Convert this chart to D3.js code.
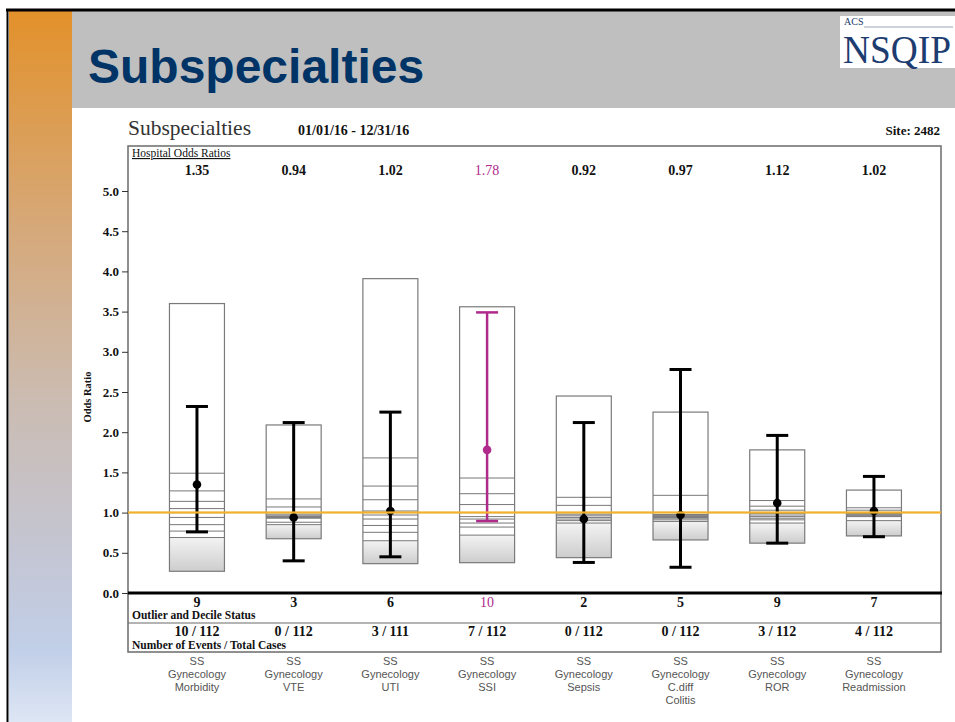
<!DOCTYPE html>
<html><head><meta charset="utf-8">
<script src="https://cdn.jsdelivr.net/npm/d3@7"></script>
<style>body{margin:0;background:#fff;overflow:hidden} svg{display:block}</style>
</head><body><svg id="c" width="955" height="722"></svg>
<script>
// ---------------- data ----------------
const categories = [
  ["SS","Gynecology","Morbidity"],
  ["SS","Gynecology","VTE"],
  ["SS","Gynecology","UTI"],
  ["SS","Gynecology","SSI"],
  ["SS","Gynecology","Sepsis"],
  ["SS","Gynecology","C.diff","Colitis"],
  ["SS","Gynecology","ROR"],
  ["SS","Gynecology","Readmission"]
];
const hospitalOR = [1.35, 0.94, 1.02, 1.78, 0.92, 0.97, 1.12, 1.02];
const ciLower   = [0.76, 0.40, 0.45, 0.895, 0.38, 0.32, 0.62, 0.70];
const ciUpper   = [2.32, 2.12, 2.25, 3.49, 2.12, 2.78, 1.96, 1.45];
const boxMin    = [0.27, 0.675, 0.365, 0.377, 0.44, 0.66, 0.62, 0.71];
const boxMax    = [3.60, 2.09, 3.91, 3.56, 2.45, 2.25, 1.78, 1.28];
const deciles = [
  [0.69, 0.77, 0.85, 0.94, 1.00, 1.05, 1.14, 1.27, 1.49],
  [0.85, 0.88, 0.93, 0.94, 0.95, 0.96, 0.98, 1.07, 1.17],
  [0.65, 0.755, 0.84, 0.92, 0.97, 1.02, 1.16, 1.33, 1.68],
  [0.72, 0.82, 0.87, 0.92, 0.95, 1.00, 1.10, 1.235, 1.43],
  [0.87, 0.90, 0.92, 0.94, 0.96, 0.98, 1.00, 1.09, 1.19],
  [0.89, 0.91, 0.93, 0.94, 0.95, 0.96, 0.97, 0.975, 1.215],
  [0.87, 0.91, 0.93, 0.95, 0.97, 0.99, 1.03, 1.08, 1.15],
  [0.90, 0.95, 0.96, 0.97, 0.98, 0.99, 1.00, 1.03, 1.06]
];
const outlierStatus = [9, 3, 6, 10, 2, 5, 9, 7];
const eventsTotal = ["10 / 112","0 / 112","3 / 111","7 / 112","0 / 112","0 / 112","3 / 112","4 / 112"];
const yTicks = [0, 0.5, 1, 1.5, 2, 2.5, 3, 3.5, 4, 4.5, 5];
const referenceOR = 1.0;

// ---------------- drawing ----------------
const svg = d3.select("#c");
const defs = svg.append("defs");
const serif = "'Liberation Serif','Times New Roman',serif";
const sans = "'Liberation Sans',Arial,sans-serif";
const magenta = "#b02a8c";
const navy = "#003366";

const strip = defs.append("linearGradient").attr("id","strip").attr("x1",0).attr("y1",0).attr("x2",0).attr("y2",1);
[[0,"#e3912a"],[0.3,"#d6a878"],[0.55,"#cbbcb2"],[0.75,"#c4c5d2"],[0.9,"#c1cfe8"],[1,"#dde6f4"]]
  .forEach(([o,c])=>strip.append("stop").attr("offset",o).attr("stop-color",c));
const boxGrad = defs.append("linearGradient").attr("id","boxg").attr("x1",0).attr("y1",0).attr("x2",0).attr("y2",1);
boxGrad.append("stop").attr("offset",0).attr("stop-color","#f3f3f3");
boxGrad.append("stop").attr("offset",1).attr("stop-color","#cdcdcd");

svg.append("rect").attr("x",0).attr("y",0).attr("width",955).attr("height",722).attr("fill","#fff");
svg.append("rect").attr("x",9).attr("y",11).attr("width",63).attr("height",711).attr("fill","url(#strip)");
svg.append("rect").attr("x",72).attr("y",11).attr("width",883).attr("height",97).attr("fill","#bfbfbf");
svg.append("line").attr("x1",6).attr("x2",955).attr("y1",10).attr("y2",10).attr("stroke","#000").attr("stroke-width",3);
svg.append("line").attr("x1",7.5).attr("x2",7.5).attr("y1",9).attr("y2",722).attr("stroke","#000").attr("stroke-width",2);

svg.append("text").attr("x",88).attr("y",83).text("Subspecialties")
  .attr("font-family",sans).attr("font-weight","bold").attr("font-size",48).attr("fill",navy);

// logo
const logo = svg.append("g");
logo.append("rect").attr("x",840).attr("y",16).attr("width",115).attr("height",52).attr("fill","#fff");
logo.append("text").attr("x",844).attr("y",25).text("ACS").attr("font-family",serif).attr("font-size",10).attr("fill","#1d3c70");
logo.append("line").attr("x1",864).attr("x2",953).attr("y1",27).attr("y2",27).attr("stroke","#9aa5b8").attr("stroke-width",1);
logo.append("text").attr("x",843).attr("y",63).text("NSQIP").attr("font-family",serif).attr("font-size",39)
  .attr("textLength",108).attr("lengthAdjust","spacingAndGlyphs").attr("fill","#1d3c70");

// chart header
svg.append("text").attr("x",128).attr("y",135).text("Subspecialties").attr("font-family",serif).attr("font-size",21.5).attr("fill","#333");
svg.append("text").attr("x",298).attr("y",135).text("01/01/16 - 12/31/16").attr("font-family",serif).attr("font-weight","bold").attr("font-size",14).attr("fill","#111");
svg.append("text").attr("x",940).attr("y",135).attr("text-anchor","end").text("Site: 2482").attr("font-family",serif).attr("font-weight","bold").attr("font-size",13).attr("fill","#111");

// scales
const x = d3.scaleBand().domain(d3.range(categories.length)).range([148.6, 922.3]).padding(0);
const cx = i => x(i) + x.bandwidth()/2;
const y = d3.scaleLinear().domain([0,5]).range([593,191]);
const bw = 55;

// frame
const fL = 128, fR = 941, fT = 146, fB = 652;
svg.append("rect").attr("x",fL).attr("y",fT).attr("width",fR-fL).attr("height",fB-fT).attr("fill","none").attr("stroke","#6b6b6b").attr("stroke-width",1.5);
svg.append("line").attr("x1",fL).attr("x2",fR).attr("y1",623).attr("y2",623).attr("stroke","#6b6b6b").attr("stroke-width",1.2);

svg.append("text").attr("x",132).attr("y",157).text("Hospital Odds Ratios").attr("font-family",serif).attr("font-size",11.5)
  .attr("text-decoration","underline").attr("fill","#111");

// y axis
const yAxis = svg.append("g").attr("transform",`translate(${fL},0)`)
  .call(d3.axisLeft(y).tickValues(yTicks).tickFormat(d3.format(".1f")).tickSize(6).tickPadding(3));
yAxis.select(".domain").remove();
yAxis.selectAll(".tick line").attr("stroke","#333");
yAxis.selectAll("text").attr("font-family",serif).attr("font-weight","bold").attr("font-size",13).attr("fill","#111");
svg.append("text").attr("transform","translate(91,397) rotate(-90)").attr("text-anchor","middle").text("Odds Ratio")
  .attr("font-family",serif).attr("font-weight","bold").attr("font-size",10.5).attr("fill","#111");

// boxes
const g = svg.append("g");
categories.forEach((c,i)=>{
  const x0 = cx(i) - bw/2;
  g.append("rect").attr("x",x0).attr("y",y(boxMax[i])).attr("width",bw).attr("height",y(boxMin[i])-y(boxMax[i]))
    .attr("fill","#fff");
  g.append("rect").attr("x",x0).attr("y",y(deciles[i][0])).attr("width",bw).attr("height",y(boxMin[i])-y(deciles[i][0]))
    .attr("fill","url(#boxg)");
  deciles[i].forEach(d=>{
    g.append("line").attr("x1",x0).attr("x2",x0+bw).attr("y1",y(d)).attr("y2",y(d)).attr("stroke","#777").attr("stroke-width",1);
  });
  g.append("rect").attr("x",x0).attr("y",y(boxMax[i])).attr("width",bw).attr("height",y(boxMin[i])-y(boxMax[i]))
    .attr("fill","none").attr("stroke","#7a7a7a").attr("stroke-width",1.2);
});

// reference line
svg.append("line").attr("x1",fL).attr("x2",fR).attr("y1",y(referenceOR)).attr("y2",y(referenceOR))
  .attr("stroke","#f2b02e").attr("stroke-width",2);

// error bars
categories.forEach((c,i)=>{
  const col = outlierStatus[i] === 10 ? magenta : "#000";
  const sw = outlierStatus[i] === 10 ? 2.5 : 3;
  const xc = cx(i);
  g.append("line").attr("x1",xc).attr("x2",xc).attr("y1",y(ciLower[i])).attr("y2",y(ciUpper[i])).attr("stroke",col).attr("stroke-width",sw);
  [ciLower[i],ciUpper[i]].forEach(v=>{
    g.append("line").attr("x1",xc-11).attr("x2",xc+11).attr("y1",y(v)).attr("y2",y(v)).attr("stroke",col).attr("stroke-width",sw);
  });
  g.append("circle").attr("cx",xc).attr("cy",y(hospitalOR[i])).attr("r",4.3).attr("fill",col);
});
svg.append("line").attr("x1",fL).attr("x2",fR).attr("y1",y(referenceOR)).attr("y2",y(referenceOR))
  .attr("stroke","#f2b02e").attr("stroke-width",1.5).attr("opacity",0.8);

// baseline
svg.append("line").attr("x1",fL).attr("x2",fR+1).attr("y1",y(0)).attr("y2",y(0)).attr("stroke","#000").attr("stroke-width",3);

// header / footer values
categories.forEach((c,i)=>{
  const hi = outlierStatus[i] === 10;
  svg.append("text").attr("x",cx(i)).attr("y",175).attr("text-anchor","middle").text(hospitalOR[i].toFixed(2))
    .attr("font-family",serif).attr("font-weight",hi?"normal":"bold").attr("font-size",14).attr("fill",hi?magenta:"#111");
  svg.append("text").attr("x",cx(i)).attr("y",607).attr("text-anchor","middle").text(outlierStatus[i])
    .attr("font-family",serif).attr("font-weight",hi?"normal":"bold").attr("font-size",14).attr("fill",hi?magenta:"#111");
  svg.append("text").attr("x",cx(i)).attr("y",636).attr("text-anchor","middle").text(eventsTotal[i])
    .attr("font-family",serif).attr("font-weight","bold").attr("font-size",14).attr("fill","#111");
  const t = svg.append("text").attr("text-anchor","middle").attr("font-family",sans).attr("font-size",11).attr("fill","#555");
  c.forEach((line,k)=>t.append("tspan").attr("x",cx(i)).attr("y",665+k*13).text(line));
});
svg.append("text").attr("x",132).attr("y",619).text("Outlier and Decile Status").attr("font-family",serif).attr("font-weight","bold").attr("font-size",11.5).attr("fill","#111");
svg.append("text").attr("x",132).attr("y",649).text("Number of Events / Total Cases").attr("font-family",serif).attr("font-weight","bold").attr("font-size",11.5).attr("fill","#111");
</script>
</body></html>
